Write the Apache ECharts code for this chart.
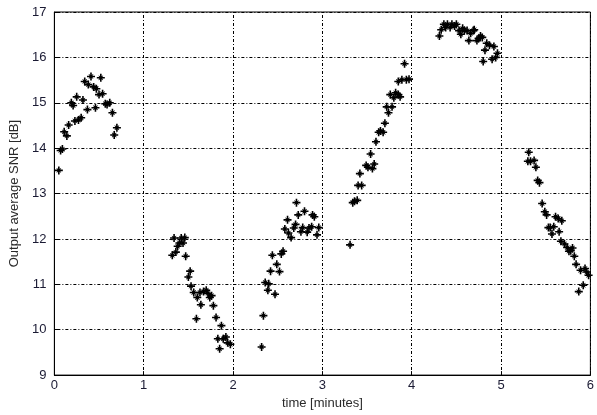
<!DOCTYPE html>
<html>
<head>
<meta charset="utf-8">
<script src="https://cdn.jsdelivr.net/npm/echarts@6/dist/echarts.min.js"></script>
<style>html,body{margin:0;padding:0;background:#fff}#c{width:597px;height:415px}</style>
</head>
<body>
<div id="c"></div>
<script>
// time [minutes]
var timeMin = [
 0.05,0.07,0.09,0.11,0.14,0.16,0.19,0.21,0.25,0.23,0.27,0.30,0.32,0.34,0.37,0.38,0.41,0.44,0.46,0.47,0.50,0.52,0.54,0.57,0.59,0.62,0.65,0.67,0.70,
 1.32,1.34,1.36,1.38,1.40,1.42,1.44,1.46,1.47,1.50,1.52,1.53,1.56,1.59,1.60,1.63,1.64,1.67,1.70,1.72,1.74,1.76,1.78,1.81,1.83,1.85,1.87,1.89,1.92,1.94,1.97,
 2.32,2.34,2.36,2.39,2.40,2.42,2.44,2.47,2.49,2.52,2.54,2.56,2.58,2.61,2.62,2.65,2.68,2.70,2.71,2.73,2.76,2.78,2.80,2.83,2.85,2.88,2.89,2.91,2.94,2.96,
 3.31,3.34,3.36,3.39,3.42,3.40,3.44,3.49,3.51,3.54,3.56,3.58,3.60,3.63,3.65,3.68,3.70,3.72,3.74,3.76,3.78,3.80,3.82,3.85,3.87,3.85,3.89,3.92,3.94,3.97,
 4.31,4.33,4.36,4.38,4.40,4.43,4.45,4.48,4.50,4.53,4.55,4.57,4.59,4.62,4.64,4.66,4.69,4.70,4.73,4.75,4.77,4.79,4.80,4.82,4.84,4.87,4.90,4.92,4.94,4.96,
 5.31,5.30,5.33,5.37,5.39,5.41,5.43,5.46,5.49,5.51,5.53,5.55,5.57,5.59,5.61,5.64,5.65,5.68,5.67,5.71,5.74,5.76,5.78,5.80,5.82,5.84,5.87,5.89,5.92,5.94,5.96,5.98
];
// Output average SNR [dB]
var snrDb = [
 13.51,13.95,13.98,14.36,14.27,14.51,15.00,14.94,15.13,14.60,14.62,14.67,15.06,15.47,14.85,15.40,15.58,15.35,14.89,15.31,15.18,15.55,15.20,14.98,14.96,15.00,14.78,14.29,14.45,
 11.64,12.02,11.71,11.84,11.91,12.02,11.91,12.03,11.62,11.16,11.29,10.96,10.82,10.24,10.71,10.82,10.55,10.84,10.87,10.80,10.71,10.75,10.53,10.27,9.80,9.58,10.09,9.80,9.84,9.71,9.68,
 9.62,10.31,11.04,10.87,11.01,11.29,11.64,10.78,11.44,11.28,11.67,11.73,12.22,12.42,12.13,12.03,12.24,12.32,12.80,12.53,12.16,12.25,12.61,12.15,12.24,12.27,12.53,12.49,12.09,12.25,
 11.87,12.80,12.83,12.85,13.44,13.18,13.18,13.62,13.58,13.87,13.55,13.65,14.14,14.35,14.38,14.35,14.55,14.91,14.78,15.18,14.91,15.11,15.22,15.18,15.13,15.47,15.51,15.86,15.51,15.52,
 16.47,16.61,16.73,16.66,16.73,16.66,16.73,16.69,16.73,16.59,16.51,16.64,16.59,16.59,16.37,16.53,16.59,16.61,16.37,16.42,16.47,16.44,15.91,16.16,16.31,16.27,15.96,16.24,16.00,16.09,
 13.91,13.71,13.71,13.73,13.58,13.29,13.24,12.78,12.60,12.53,12.25,12.25,12.11,12.27,12.49,12.45,12.16,12.40,11.95,11.89,11.81,11.73,11.74,11.80,11.62,11.44,10.84,11.31,10.98,11.35,11.27,11.20
];
var xTicks = [0,1,2,3,4,5,6];
var yTicks = [9,10,11,12,13,14,15,16,17];

var pts = timeMin.map(function(t,i){return [t, snrDb[i]];});
var star = 'path://M4,0 L6,0 L6,3.2 L7.6,2 L8,2.4 L6.8,4 L10,4 L10,6 L6.8,6 L8,7.6 L7.6,8 L6,6.8 L6,10 L4,10 L4,6.8 L2.4,8 L2,7.6 L3.2,6 L0,6 L0,4 L3.2,4 L2,2.4 L2.4,2 L4,3.2 Z';
var font = 'Liberation Sans, Arial, Helvetica, sans-serif';
var gridLine = {show:true, lineStyle:{color:'#000', width:1, type:[1,2,3,2]}};

var chart = echarts.init(document.getElementById('c'), null, {renderer:'canvas'});
chart.setOption({
  animation:false,
  backgroundColor:'#fff',
  grid:{left:52, right:6, top:12, bottom:35, show:true, borderColor:'#000', borderWidth:1, containLabel:false},
  xAxis:{
    type:'value', min:xTicks[0], max:xTicks[xTicks.length-1], interval:1,
    name:'time [minutes]', nameLocation:'middle', nameGap:20,
    nameTextStyle:{fontFamily:font, fontSize:13, color:'#2a2a2a'},
    axisLine:{show:true, lineStyle:{color:'#000'}},
    axisTick:{show:true, inside:true, length:4, lineStyle:{color:'#000'}},
    axisLabel:{fontFamily:font, fontSize:13, color:'#1a1a33', margin:4},
    splitLine:gridLine
  },
  yAxis:{
    type:'value', min:yTicks[0], max:yTicks[yTicks.length-1], interval:1,
    name:'Output average SNR [dB]', nameLocation:'middle', nameGap:22, nameRotate:90,
    nameTextStyle:{fontFamily:font, fontSize:13, color:'#2a2a2a'},
    axisLine:{show:true, lineStyle:{color:'#000'}},
    axisTick:{show:true, inside:true, length:4, lineStyle:{color:'#000'}},
    axisLabel:{fontFamily:font, fontSize:13, color:'#1a1a33', margin:8},
    splitLine:gridLine
  },
  series:[{
    type:'scatter',
    data:pts,
    symbol:star,
    symbolSize:8,
    itemStyle:{color:'#000', opacity:1},
    emphasis:{disabled:true}
  }]
});
</script>
</body>
</html>
